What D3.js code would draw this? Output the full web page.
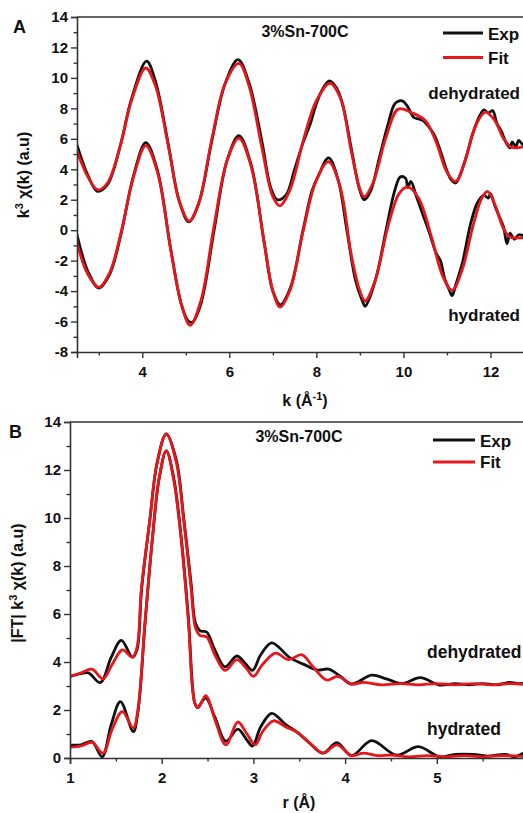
<!DOCTYPE html>
<html><head><meta charset="utf-8">
<script src="https://cdn.jsdelivr.net/npm/d3@7"></script>
<style>
html,body{margin:0;padding:0;background:#fff;}
svg{display:block;}
text{font-family:"Liberation Sans",Arial,sans-serif;font-weight:bold;fill:#111;}
</style></head><body>
<svg id="c" width="523" height="813"></svg>
<script>
// ---------- Panel A data: k (1/Å) and k^3 chi(k) ----------
const kTicks = [4, 6, 8, 10, 12];
const kMinor = [3, 5, 7, 9, 11, 13];
const yTicksA = [-8, -6, -4, -2, 0, 2, 4, 6, 8, 10, 12, 14];
const yMinorA = [-7, -5, -3, -1, 1, 3, 5, 7, 9, 11, 13];

const dehydFitK = [2.5,2.75,2.98,3.2,3.5,3.75,4.08,4.3,4.6,4.85,5.08,5.3,5.6,5.9,6.22,6.45,6.75,7.0,7.16,7.4,7.7,8.0,8.31,8.55,8.8,9.0,9.1,9.3,9.6,9.88,10.2,10.5,10.75,11.0,11.2,11.4,11.65,11.88,12.1,12.3,12.45,12.6,12.8,13.0];
const dehydFitY = [5.2,3.5,2.65,3.1,5.6,8.5,10.65,9.5,5.5,1.9,0.6,1.8,6.0,9.6,10.95,9.5,5.4,2.2,1.6,2.7,5.9,8.5,9.65,8.7,5.2,2.7,2.2,3.1,6.1,7.95,7.7,7.2,5.8,3.8,3.2,4.4,6.8,7.75,7.2,6.0,5.5,5.4,5.5,5.5];

const dehydExpK = [2.5,2.75,2.97,3.2,3.5,3.75,4.1,4.3,4.6,4.85,5.07,5.3,5.6,5.9,6.2,6.45,6.75,6.95,7.1,7.3,7.5,7.7,7.85,8.0,8.15,8.3,8.45,8.6,8.8,9.0,9.1,9.25,9.45,9.65,9.8,9.92,10.0,10.1,10.24,10.35,10.45,10.55,10.7,10.85,11.0,11.1,11.2,11.3,11.45,11.6,11.75,11.85,11.95,12.05,12.15,12.25,12.35,12.45,12.5,12.58,12.65,12.75,12.85,13.0];
const dehydExpY = [5.6,3.6,2.55,3.0,5.6,8.6,11.1,9.8,5.6,1.9,0.55,1.8,5.9,9.6,11.2,9.7,5.8,2.8,2.0,2.3,4.0,5.8,6.9,8.3,9.3,9.8,9.4,8.3,5.4,2.6,2.0,2.6,4.8,7.0,8.3,8.5,8.45,8.1,7.4,7.3,7.2,6.9,6.3,5.2,3.9,3.3,3.1,3.6,4.9,6.4,7.5,7.9,7.7,7.85,7.0,6.5,5.8,5.4,5.8,5.5,5.9,5.6,5.7,5.6];

const hydFitK = [2.5,2.75,3.0,3.25,3.5,3.8,4.08,4.35,4.65,4.9,5.1,5.35,5.65,5.95,6.22,6.5,6.8,7.0,7.17,7.4,7.7,8.0,8.28,8.55,8.8,9.0,9.12,9.35,9.65,9.9,10.1,10.35,10.65,10.9,11.12,11.35,11.6,11.8,11.93,12.1,12.3,12.45,12.6,12.8,13.0];
const hydFitY = [-0.85,-2.9,-3.75,-2.8,-0.3,3.5,5.55,3.8,-1.2,-4.9,-6.25,-4.6,0.3,4.6,6.05,4.2,-0.8,-4.0,-5.05,-3.9,0.0,3.3,4.5,2.8,-1.6,-4.0,-4.65,-3.3,0.3,2.4,2.85,2.1,-0.5,-3.0,-3.95,-2.6,0.3,2.1,2.55,1.7,0.1,-0.45,-0.5,-0.5,-0.5];

const hydExpK = [2.5,2.75,3.0,3.25,3.5,3.8,4.08,4.35,4.65,4.9,5.05,5.15,5.35,5.65,5.95,6.22,6.5,6.8,7.0,7.17,7.4,7.7,7.9,8.05,8.28,8.5,8.7,8.9,9.05,9.12,9.2,9.4,9.6,9.8,9.93,10.05,10.1,10.17,10.3,10.45,10.6,10.75,10.85,10.95,11.05,11.12,11.2,11.35,11.55,11.7,11.85,11.95,12.0,12.1,12.2,12.3,12.38,12.45,12.55,12.65,12.8,13.0];
const hydExpY = [-0.3,-2.7,-3.8,-2.9,-0.4,3.6,5.75,3.9,-1.2,-4.9,-5.95,-6.05,-4.8,0.0,4.6,6.2,4.3,-0.8,-4.0,-4.9,-3.8,0.1,2.6,3.6,4.75,3.3,0.0,-3.3,-4.6,-5.0,-4.6,-2.8,0.0,2.6,3.5,3.4,2.8,3.2,2.2,1.0,-0.2,-1.5,-2.0,-3.2,-3.9,-4.3,-3.6,-2.2,0.5,1.8,2.3,2.1,2.4,1.6,0.9,0.2,-0.9,-0.2,-0.6,-0.3,-0.4,-0.4];

// ---------- Panel B data: r (Å) and |FT| ----------
const rTicks = [1, 2, 3, 4, 5];
const rMinor = [1.5, 2.5, 3.5, 4.5, 5.5];
const yTicksB = [0, 2, 4, 6, 8, 10, 12, 14];
const yMinorB = [1, 3, 5, 7, 9, 11, 13];

const dehydFitR = [1.0,1.12,1.24,1.36,1.46,1.57,1.68,1.73,1.78,1.87,1.95,2.05,2.16,2.24,2.32,2.37,2.42,2.49,2.58,2.69,2.82,2.92,3.0,3.1,3.24,3.38,3.53,3.65,3.8,3.92,4.07,4.2,4.4,4.6,4.8,5.0,5.2,5.4,5.6,5.8,6.0];
const dehydFitM = [3.4,3.55,3.7,3.3,3.9,4.5,4.2,4.6,7.1,9.9,12.3,13.5,12.3,9.9,7.1,5.4,5.1,5.05,4.3,3.65,4.1,3.75,3.4,3.9,4.37,4.1,4.3,3.8,3.25,3.4,3.08,3.15,3.05,3.1,3.05,3.1,3.05,3.1,3.05,3.1,3.05];

const dehydExpR = [1.0,1.1,1.2,1.33,1.45,1.56,1.68,1.73,1.78,1.87,1.95,2.05,2.16,2.24,2.32,2.37,2.42,2.49,2.58,2.69,2.82,2.92,2.99,3.08,3.2,3.4,3.55,3.69,3.82,3.95,4.07,4.29,4.45,4.62,4.82,5.03,5.2,5.35,5.5,5.65,5.8,5.9,6.0];
const dehydExpM = [3.4,3.5,3.55,3.14,4.2,4.9,4.2,4.5,7.0,9.9,12.3,13.5,12.4,10.0,7.3,5.6,5.3,5.25,4.5,3.8,4.25,3.9,3.65,4.3,4.8,4.17,3.9,3.67,3.7,3.4,3.08,3.45,3.3,3.1,3.35,3.04,3.1,3.05,3.1,3.05,3.15,3.1,3.15];

const hydFitR = [1.0,1.12,1.24,1.36,1.46,1.57,1.69,1.74,1.82,1.9,1.97,2.05,2.13,2.21,2.29,2.36,2.4,2.48,2.58,2.7,2.83,2.93,3.02,3.1,3.22,3.35,3.49,3.62,3.76,3.91,4.07,4.2,4.35,4.5,4.7,4.9,5.1,5.3,5.5,5.7,6.0];
const hydFitM = [0.45,0.5,0.65,0.2,1.2,1.93,1.25,2.0,5.75,9.2,11.6,12.8,11.6,9.2,5.75,2.3,2.1,2.6,1.6,0.55,1.5,1.0,0.55,1.1,1.55,1.3,1.04,0.6,0.2,0.55,0.1,0.2,0.1,0.12,0.05,0.1,0.05,0.1,0.05,0.1,0.05];

const hydExpR = [1.0,1.12,1.24,1.35,1.45,1.55,1.69,1.74,1.82,1.9,1.97,2.05,2.13,2.21,2.29,2.36,2.39,2.48,2.58,2.7,2.83,2.92,2.99,3.08,3.2,3.35,3.49,3.62,3.76,3.91,4.07,4.29,4.56,4.8,5.03,5.2,5.4,5.55,5.75,5.85,5.95,6.0];
const hydExpM = [0.54,0.55,0.68,0.05,1.4,2.35,1.1,1.9,5.7,9.2,11.6,12.8,11.7,9.3,5.9,2.3,2.1,2.5,1.7,0.7,1.2,0.8,0.5,1.3,1.86,1.4,1.04,0.6,0.2,0.64,0.1,0.72,0.12,0.47,0.05,0.15,0.15,0.08,0.15,0.05,0.2,0.15];

const BLACK = "#111111", RED = "#e8161b";
const LW = 2.8;
const svg = d3.select("#c");

function zip(xs, ys){ return xs.map((x,i)=>[x, ys[i]]); }

function panel(o){
  const x = d3.scaleLinear().domain(o.xd).range(o.xr);
  const y = d3.scaleLinear().domain(o.yd).range(o.yr);
  const g = svg.append("g");
  const clipId = "clip" + o.id;
  svg.append("clipPath").attr("id", clipId).append("rect")
    .attr("x", o.xr[0]).attr("y", o.yr[1]-2).attr("width", o.xr[1]-o.xr[0]).attr("height", o.yr[0]-o.yr[1]+4);
  const line = d3.line().x(d=>x(d[0])).y(d=>y(d[1])).curve(d3.curveCatmullRom.alpha(0.5));
  const cg = g.append("g").attr("clip-path", `url(#${clipId})`);
  o.series.forEach(s=>{
    cg.append("path").datum(zip(s.x, s.y)).attr("d", line)
      .attr("fill","none").attr("stroke", s.c).attr("stroke-width", LW)
      .attr("stroke-linejoin","round").attr("stroke-linecap","round");
  });
  g.append("g").attr("transform", `translate(0,${o.yr[0]})`)
    .call(d3.axisBottom(x).tickValues(o.xt).tickSize(6).tickPadding(5).tickFormat(d=>String(d)))
    .call(a=>a.selectAll(".tick text").attr("dy","0.9em"));
  g.append("g").attr("transform", `translate(0,${o.yr[0]})`)
    .call(d3.axisBottom(x).tickValues(o.xm).tickSize(3.5).tickFormat(""))
    .call(a=>a.select(".domain").remove());
  g.append("g").attr("transform", `translate(${o.xr[0]},0)`)
    .call(d3.axisLeft(y).tickValues(o.yt).tickSize(6).tickPadding(3).tickFormat(d=>String(d)));
  g.append("g").attr("transform", `translate(${o.xr[0]},0)`)
    .call(d3.axisLeft(y).tickValues(o.ym).tickSize(3.5).tickFormat(""))
    .call(a=>a.select(".domain").remove());
  g.selectAll(".domain").attr("stroke","#333").attr("stroke-width",1.6);
  g.selectAll(".tick line").attr("stroke","#333").attr("stroke-width",1.4);
  g.selectAll(".tick text").attr("font-size", 15).attr("font-family",'"Liberation Sans",Arial,sans-serif').attr("font-weight","bold").attr("fill","#111");
  g.append("line").attr("x1", o.xr[0]).attr("x2", 523).attr("y1", o.yr[1]).attr("y2", o.yr[1])
    .attr("stroke","#333").attr("stroke-width",1.6);
  return {x, y, g};
}

// ---------- Panel A ----------
panel({id:"A", xd:[2.5,13], xr:[77,534], yd:[-8,14], yr:[352,17],
  xt:kTicks, xm:kMinor, yt:yTicksA, ym:yMinorA,
  series:[
    {x:dehydExpK, y:dehydExpY, c:BLACK},
    {x:hydExpK, y:hydExpY, c:BLACK},
    {x:dehydFitK, y:dehydFitY, c:RED},
    {x:hydFitK, y:hydFitY, c:RED}
  ]});

svg.append("text").attr("x",13).attr("y",33).attr("font-size",18).text("A");
svg.append("text").attr("x",305).attr("y",37).attr("text-anchor","middle").attr("font-size",16).text("3%Sn-700C");
svg.append("text").attr("transform","translate(29,175) rotate(-90)").attr("text-anchor","middle").attr("font-size",16)
  .html('k<tspan dy="-6" font-size="11">3</tspan><tspan dy="6"> χ(k) (a.u)</tspan>');
svg.append("text").attr("x",305).attr("y",406).attr("text-anchor","middle").attr("font-size",16)
  .html('k (Å<tspan dy="-6" font-size="11">-1</tspan><tspan dy="6">)</tspan>');
svg.append("line").attr("x1",443).attr("x2",483).attr("y1",33).attr("y2",33).attr("stroke",BLACK).attr("stroke-width",LW);
svg.append("line").attr("x1",443).attr("x2",483).attr("y1",57.5).attr("y2",57.5).attr("stroke",RED).attr("stroke-width",LW);
svg.append("text").attr("x",488).attr("y",39.5).attr("font-size",17).text("Exp");
svg.append("text").attr("x",488).attr("y",64).attr("font-size",17).text("Fit");
svg.append("text").attr("x",520).attr("y",99).attr("text-anchor","end").attr("font-size",17).text("dehydrated");
svg.append("text").attr("x",520).attr("y",321).attr("text-anchor","end").attr("font-size",17).text("hydrated");

// ---------- Panel B ----------
panel({id:"B", xd:[1,6], xr:[70,528.5], yd:[0,14], yr:[758,422],
  xt:rTicks, xm:rMinor, yt:yTicksB, ym:yMinorB,
  series:[
    {x:dehydExpR, y:dehydExpM, c:BLACK},
    {x:hydExpR, y:hydExpM, c:BLACK},
    {x:dehydFitR, y:dehydFitM, c:RED},
    {x:hydFitR, y:hydFitM, c:RED}
  ]});

svg.append("text").attr("x",9).attr("y",438).attr("font-size",18).text("B");
svg.append("text").attr("x",299).attr("y",442).attr("text-anchor","middle").attr("font-size",16).text("3%Sn-700C");
svg.append("text").attr("transform","translate(23,583) rotate(-90)").attr("text-anchor","middle").attr("font-size",16)
  .html('|FT| k<tspan dy="-6" font-size="11">3</tspan><tspan dy="6"> χ(k) (a.u)</tspan>');
svg.append("text").attr("x",299).attr("y",808).attr("text-anchor","middle").attr("font-size",16).text("r (Å)");
svg.append("line").attr("x1",433).attr("x2",475).attr("y1",440).attr("y2",440).attr("stroke",BLACK).attr("stroke-width",LW);
svg.append("line").attr("x1",433).attr("x2",475).attr("y1",462).attr("y2",462).attr("stroke",RED).attr("stroke-width",LW);
svg.append("text").attr("x",480).attr("y",446.5).attr("font-size",17).text("Exp");
svg.append("text").attr("x",480).attr("y",468).attr("font-size",17).text("Fit");
svg.append("text").attr("x",427).attr("y",658).attr("font-size",17.5).text("dehydrated");
svg.append("text").attr("x",427).attr("y",735).attr("font-size",17.5).text("hydrated");
</script>
</body></html>
